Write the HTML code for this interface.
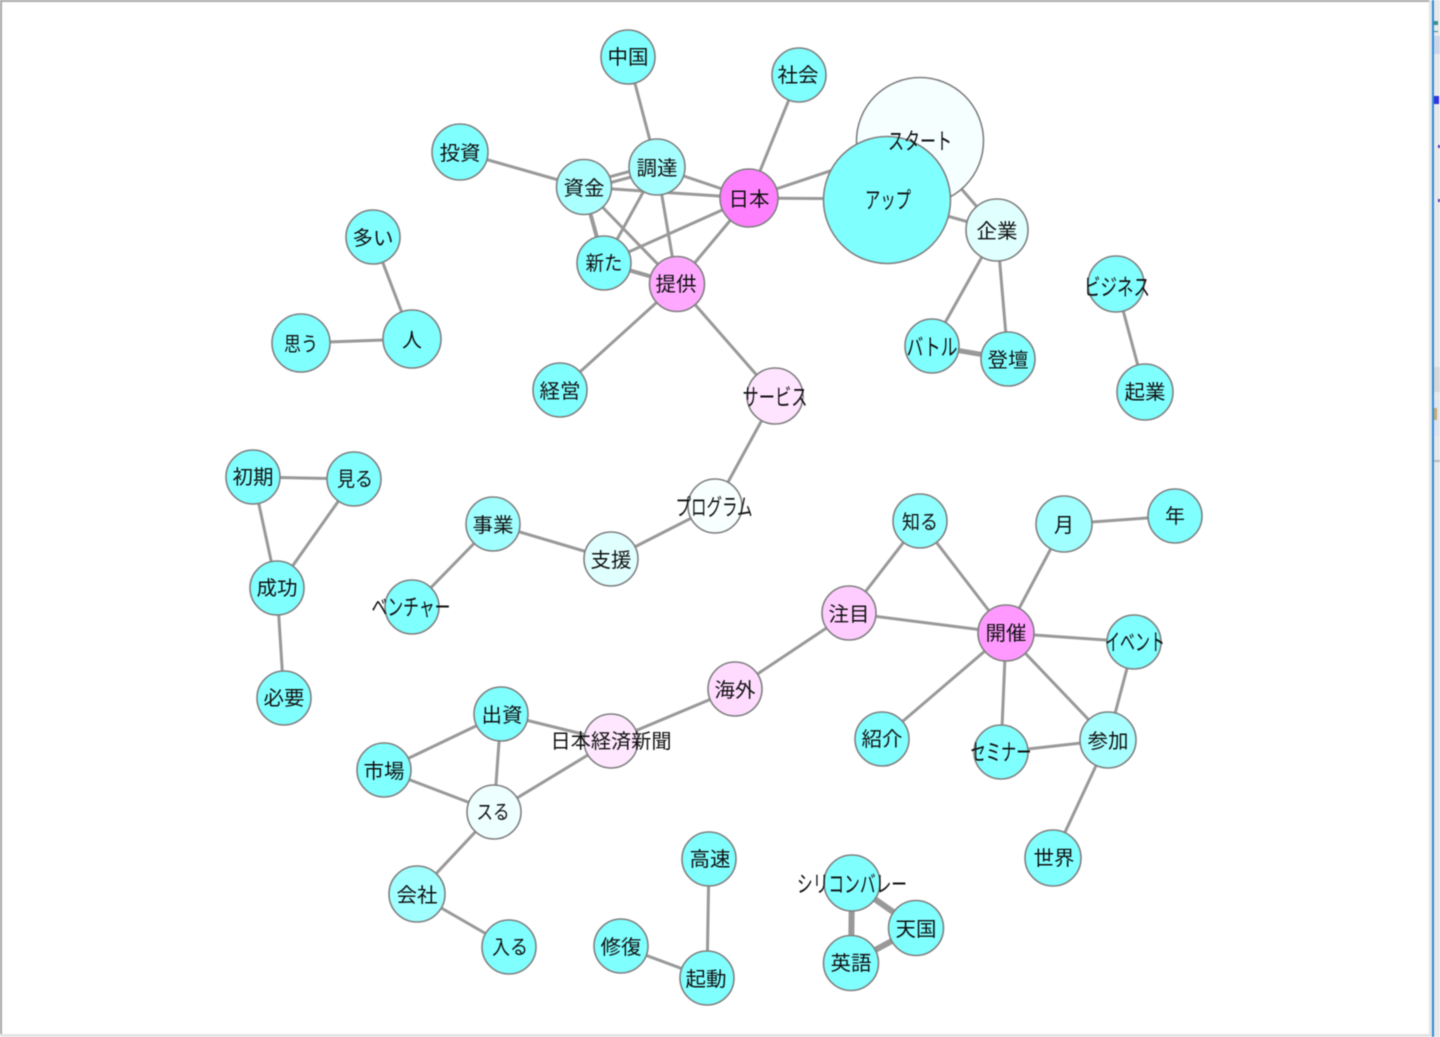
<!DOCTYPE html>
<html lang="ja"><head><meta charset="utf-8"><title>共起ネットワーク</title>
<style>
html,body{margin:0;padding:0;width:1440px;height:1037px;overflow:hidden;background:#fff}
svg{display:block;filter:blur(0.4px)}
text{font-family:"Liberation Sans","Noto Sans CJK JP",sans-serif;font-size:20px;fill:#111;text-anchor:middle}
text.k{font-size:23px}
.e line{stroke:#999;stroke-width:3}
.n circle{stroke:#808080;stroke-width:1.6}
</style></head><body>
<svg width="1440" height="1037" viewBox="0 0 1440 1037" xmlns="http://www.w3.org/2000/svg">
<rect x="0" y="0" width="1440" height="1037" fill="#fff"/>
<rect x="0" y="0" width="1429" height="2" fill="#aaa"/>
<rect x="0" y="0" width="2" height="1034" fill="#a5a5a5"/>
<rect x="0" y="1034" width="1431" height="3" fill="#e4e4e4"/>
<rect x="1429" y="0" width="3" height="1037" fill="#e4e4e4"/>
<rect x="1432" y="0" width="2" height="1037" fill="#2f8fdd"/>
<rect x="1434" y="0" width="6" height="1037" fill="#e8e8e8"/>
<rect x="1434" y="36" width="6" height="18" fill="#cdd6e6"/>
<rect x="1434" y="21" width="4" height="4" fill="#3c8f8f"/>
<rect x="1434" y="31" width="4" height="1" fill="#2f8f7f"/>
<rect x="1434" y="96" width="5" height="8" fill="#3333dd"/>
<rect x="1438" y="145" width="2" height="3" fill="#5533bb"/>
<rect x="1438" y="199" width="2" height="3" fill="#5533bb"/>
<rect x="1434" y="367" width="6" height="25" fill="#d8d8d8"/>
<rect x="1434" y="400" width="6" height="36" fill="#e0e4ee"/>
<rect x="1434" y="408" width="3" height="12" fill="#c8aa70"/>
<rect x="1434" y="460" width="6" height="2" fill="#bbb"/>

<g class="e">
<line x1="628" y1="57" x2="657" y2="167"/>
<line x1="799" y1="75" x2="749" y2="198"/>
<line x1="460" y1="152" x2="583" y2="187"/>
<line x1="583" y1="184" x2="657" y2="164"/>
<line x1="583" y1="190" x2="657" y2="170"/>
<line x1="657" y1="167" x2="749" y2="198"/>
<line x1="583" y1="187" x2="749" y2="198"/>
<line x1="583" y1="187" x2="604" y2="263" style="stroke-width:4"/>
<line x1="583" y1="187" x2="677" y2="284"/>
<line x1="657" y1="167" x2="604" y2="263"/>
<line x1="657" y1="167" x2="677" y2="284"/>
<line x1="604" y1="263" x2="749" y2="198"/>
<line x1="604" y1="263" x2="677" y2="284" style="stroke-width:4"/>
<line x1="677" y1="284" x2="749" y2="198"/>
<line x1="749" y1="198" x2="887" y2="199"/>
<line x1="749" y1="198" x2="920" y2="141"/>
<line x1="920" y1="141" x2="997" y2="230"/>
<line x1="887" y1="199" x2="997" y2="230"/>
<line x1="997" y1="230" x2="932" y2="346"/>
<line x1="997" y1="230" x2="1008" y2="359"/>
<line x1="932" y1="346" x2="1008" y2="359" style="stroke-width:5"/>
<line x1="1116" y1="284" x2="1145" y2="392"/>
<line x1="373" y1="237" x2="412" y2="339"/>
<line x1="301" y1="343" x2="412" y2="339"/>
<line x1="677" y1="284" x2="560" y2="390"/>
<line x1="677" y1="284" x2="775" y2="396"/>
<line x1="775" y1="396" x2="715" y2="506"/>
<line x1="715" y1="506" x2="611" y2="559"/>
<line x1="611" y1="559" x2="493" y2="524"/>
<line x1="493" y1="524" x2="412" y2="607"/>
<line x1="253" y1="477" x2="354" y2="479"/>
<line x1="253" y1="477" x2="277" y2="588"/>
<line x1="354" y1="479" x2="277" y2="588"/>
<line x1="277" y1="588" x2="284" y2="698"/>
<line x1="920" y1="521" x2="849" y2="613"/>
<line x1="920" y1="521" x2="1006" y2="633"/>
<line x1="849" y1="613" x2="1006" y2="633"/>
<line x1="849" y1="613" x2="735" y2="689"/>
<line x1="735" y1="689" x2="611" y2="741"/>
<line x1="611" y1="741" x2="501" y2="714"/>
<line x1="611" y1="741" x2="494" y2="812"/>
<line x1="501" y1="714" x2="384" y2="770"/>
<line x1="501" y1="714" x2="494" y2="812"/>
<line x1="384" y1="770" x2="494" y2="812"/>
<line x1="494" y1="812" x2="417" y2="894"/>
<line x1="417" y1="894" x2="509" y2="947"/>
<line x1="709" y1="859" x2="707" y2="978"/>
<line x1="621" y1="946" x2="707" y2="978"/>
<line x1="1064" y1="524" x2="1006" y2="633"/>
<line x1="1064" y1="524" x2="1175" y2="516"/>
<line x1="1006" y1="633" x2="1134" y2="642"/>
<line x1="1006" y1="633" x2="882" y2="739"/>
<line x1="1006" y1="633" x2="1001" y2="752"/>
<line x1="1006" y1="633" x2="1108" y2="740"/>
<line x1="1134" y1="642" x2="1108" y2="740"/>
<line x1="1001" y1="752" x2="1108" y2="740"/>
<line x1="1108" y1="740" x2="1053" y2="858"/>
<line x1="852" y1="883" x2="916" y2="928" style="stroke-width:6"/>
<line x1="852" y1="883" x2="851" y2="963" style="stroke-width:6"/>
<line x1="916" y1="928" x2="851" y2="963" style="stroke-width:6"/>
</g>

<g class="n">
<circle cx="920" cy="141" r="63.5" fill="#f5ffff"/>
<circle cx="887" cy="200" r="63.5" fill="#80ffff"/>
<circle cx="628" cy="57" r="27" fill="#80ffff"/>
<circle cx="799" cy="75" r="27" fill="#80ffff"/>
<circle cx="460" cy="152" r="28" fill="#80ffff"/>
<circle cx="584" cy="187" r="27.5" fill="#aaffff"/>
<circle cx="657" cy="167" r="28" fill="#a6ffff"/>
<circle cx="749" cy="198" r="29" fill="#ff80ff"/>
<circle cx="997" cy="230" r="31" fill="#e0ffff"/>
<circle cx="373" cy="237" r="27" fill="#80ffff"/>
<circle cx="604" cy="263" r="27" fill="#80ffff"/>
<circle cx="677" cy="284" r="27.5" fill="#ffa8ff"/>
<circle cx="412" cy="339" r="29" fill="#80ffff"/>
<circle cx="301" cy="343" r="29" fill="#80ffff"/>
<circle cx="560" cy="390" r="27" fill="#80ffff"/>
<circle cx="932" cy="346" r="27" fill="#80ffff"/>
<circle cx="1008" cy="359" r="27" fill="#80ffff"/>
<circle cx="1116" cy="284" r="28" fill="#80ffff"/>
<circle cx="1145" cy="392" r="28" fill="#80ffff"/>
<circle cx="775" cy="396" r="28" fill="#ffe4ff"/>
<circle cx="253" cy="477" r="27" fill="#80ffff"/>
<circle cx="354" cy="479" r="27" fill="#80ffff"/>
<circle cx="277" cy="588" r="27" fill="#80ffff"/>
<circle cx="284" cy="698" r="27" fill="#80ffff"/>
<circle cx="493" cy="524" r="27" fill="#a0ffff"/>
<circle cx="611" cy="559" r="27" fill="#e0ffff"/>
<circle cx="715" cy="506" r="27" fill="#f8ffff"/>
<circle cx="412" cy="607" r="27" fill="#80ffff"/>
<circle cx="920" cy="521" r="27" fill="#90ffff"/>
<circle cx="1064" cy="524" r="28" fill="#a0ffff"/>
<circle cx="1175" cy="516" r="27" fill="#80ffff"/>
<circle cx="849" cy="613" r="27" fill="#ffccff"/>
<circle cx="1006" cy="633" r="28" fill="#ff99ff"/>
<circle cx="1134" cy="642" r="27" fill="#80ffff"/>
<circle cx="735" cy="689" r="27" fill="#ffdcff"/>
<circle cx="501" cy="714" r="27" fill="#80ffff"/>
<circle cx="384" cy="770" r="27" fill="#80ffff"/>
<circle cx="611" cy="741" r="27" fill="#ffe8ff"/>
<circle cx="882" cy="739" r="27" fill="#80ffff"/>
<circle cx="1001" cy="752" r="27" fill="#80ffff"/>
<circle cx="1108" cy="740" r="28" fill="#a8ffff"/>
<circle cx="494" cy="812" r="27" fill="#eeffff"/>
<circle cx="1053" cy="858" r="28" fill="#80ffff"/>
<circle cx="417" cy="894" r="28" fill="#a0ffff"/>
<circle cx="509" cy="947" r="27" fill="#80ffff"/>
<circle cx="709" cy="859" r="27" fill="#80ffff"/>
<circle cx="621" cy="946" r="27" fill="#80ffff"/>
<circle cx="707" cy="978" r="27" fill="#80ffff"/>
<circle cx="852" cy="883" r="28" fill="#80ffff"/>
<circle cx="916" cy="928" r="27.5" fill="#80ffff"/>
<circle cx="851" cy="963" r="27.5" fill="#80ffff"/>
</g>

<g>
<text class="k" x="920" y="149" textLength="64" lengthAdjust="spacingAndGlyphs">スタート</text>
<text class="k" x="888" y="208" textLength="46" lengthAdjust="spacingAndGlyphs">アップ</text>
<text x="628" y="64" textLength="41" lengthAdjust="spacingAndGlyphs">中国</text>
<text x="798" y="82" textLength="41" lengthAdjust="spacingAndGlyphs">社会</text>
<text x="460" y="160" textLength="41" lengthAdjust="spacingAndGlyphs">投資</text>
<text x="584" y="195" textLength="41" lengthAdjust="spacingAndGlyphs">資金</text>
<text x="657" y="175" textLength="41" lengthAdjust="spacingAndGlyphs">調達</text>
<text x="749" y="206" textLength="41" lengthAdjust="spacingAndGlyphs">日本</text>
<text x="997" y="238" textLength="41" lengthAdjust="spacingAndGlyphs">企業</text>
<text x="373" y="245" textLength="41" lengthAdjust="spacingAndGlyphs">多い</text>
<text x="604" y="270" textLength="37" lengthAdjust="spacingAndGlyphs">新た</text>
<text x="676" y="291" textLength="41" lengthAdjust="spacingAndGlyphs">提供</text>
<text x="412" y="347" textLength="20" lengthAdjust="spacingAndGlyphs">人</text>
<text x="301" y="351" textLength="34" lengthAdjust="spacingAndGlyphs">思う</text>
<text x="560" y="398" textLength="41" lengthAdjust="spacingAndGlyphs">経営</text>
<text class="k" x="932" y="355" textLength="51" lengthAdjust="spacingAndGlyphs">バトル</text>
<text x="1008" y="367" textLength="41" lengthAdjust="spacingAndGlyphs">登壇</text>
<text class="k" x="1117" y="295" textLength="66" lengthAdjust="spacingAndGlyphs">ビジネス</text>
<text x="1145" y="399" textLength="41" lengthAdjust="spacingAndGlyphs">起業</text>
<text class="k" x="775" y="405" textLength="65" lengthAdjust="spacingAndGlyphs">サービス</text>
<text x="253" y="484" textLength="41" lengthAdjust="spacingAndGlyphs">初期</text>
<text x="355" y="486" textLength="36" lengthAdjust="spacingAndGlyphs">見る</text>
<text x="277" y="595" textLength="41" lengthAdjust="spacingAndGlyphs">成功</text>
<text x="284" y="705" textLength="41" lengthAdjust="spacingAndGlyphs">必要</text>
<text x="493" y="532" textLength="41" lengthAdjust="spacingAndGlyphs">事業</text>
<text x="611" y="567" textLength="41" lengthAdjust="spacingAndGlyphs">支援</text>
<text class="k" x="714" y="515" textLength="77" lengthAdjust="spacingAndGlyphs">プログラム</text>
<text class="k" x="411" y="615" textLength="79" lengthAdjust="spacingAndGlyphs">ベンチャー</text>
<text x="920" y="529" textLength="36" lengthAdjust="spacingAndGlyphs">知る</text>
<text x="1064" y="532" textLength="20" lengthAdjust="spacingAndGlyphs">月</text>
<text x="1175" y="523" textLength="20" lengthAdjust="spacingAndGlyphs">年</text>
<text x="849" y="621" textLength="41" lengthAdjust="spacingAndGlyphs">注目</text>
<text x="1006" y="640" textLength="41" lengthAdjust="spacingAndGlyphs">開催</text>
<text class="k" x="1135" y="650" textLength="60" lengthAdjust="spacingAndGlyphs">イベント</text>
<text x="735" y="697" textLength="41" lengthAdjust="spacingAndGlyphs">海外</text>
<text x="502" y="722" textLength="41" lengthAdjust="spacingAndGlyphs">出資</text>
<text x="384" y="778" textLength="41" lengthAdjust="spacingAndGlyphs">市場</text>
<text x="611" y="748" textLength="121" lengthAdjust="spacingAndGlyphs">日本経済新聞</text>
<text x="882" y="746" textLength="41" lengthAdjust="spacingAndGlyphs">紹介</text>
<text class="k" x="1001" y="760" textLength="61" lengthAdjust="spacingAndGlyphs">セミナー</text>
<text x="1108" y="748" textLength="41" lengthAdjust="spacingAndGlyphs">参加</text>
<text x="493" y="819" textLength="33" lengthAdjust="spacingAndGlyphs">スる</text>
<text x="1054" y="865" textLength="41" lengthAdjust="spacingAndGlyphs">世界</text>
<text x="417" y="902" textLength="41" lengthAdjust="spacingAndGlyphs">会社</text>
<text x="510" y="954" textLength="36" lengthAdjust="spacingAndGlyphs">入る</text>
<text x="710" y="866" textLength="41" lengthAdjust="spacingAndGlyphs">高速</text>
<text x="621" y="954" textLength="41" lengthAdjust="spacingAndGlyphs">修復</text>
<text x="706" y="986" textLength="41" lengthAdjust="spacingAndGlyphs">起動</text>
<text class="k" x="852" y="892" textLength="110" lengthAdjust="spacingAndGlyphs">シリコンバレー</text>
<text x="916" y="936" textLength="41" lengthAdjust="spacingAndGlyphs">天国</text>
<text x="851" y="970" textLength="41" lengthAdjust="spacingAndGlyphs">英語</text>
</g>
</svg>
</body></html>
